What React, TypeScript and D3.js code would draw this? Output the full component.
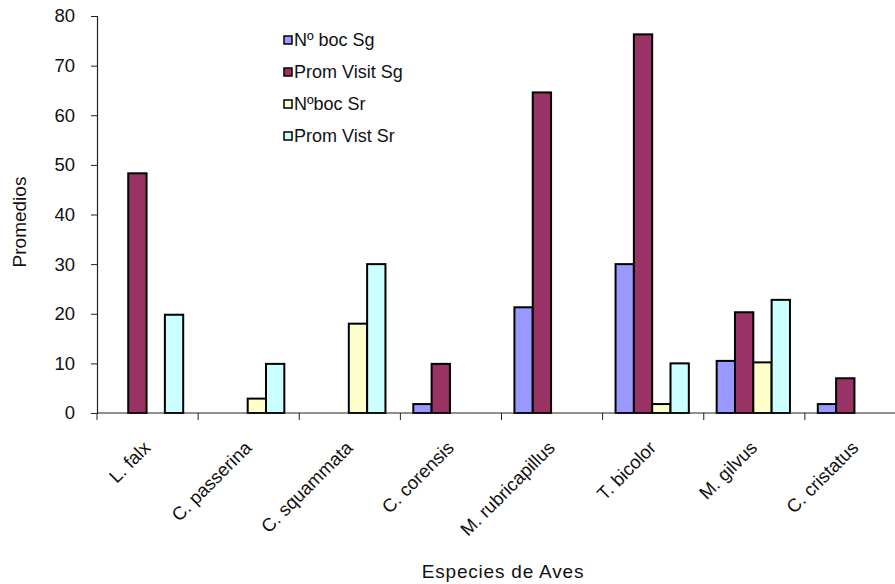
import React, { useEffect, useRef } from "react";
import * as d3 from "d3";

const species = ["L. falx", "C. passerina", "C. squammata", "C. corensis", "M. rubricapillus", "T. bicolor", "M. gilvus", "C. cristatus"];
const seriesNames = ["Nº boc Sg", "Prom Visit Sg", "Nºboc Sr", "Prom Vist Sr"];
const bocSg = [0, 0, 0, 1.8, 21.3, 30, 10.5, 1.8];
const visitSg = [48.3, 0, 0, 9.9, 64.6, 76.3, 20.3, 7];
const bocSr = [0, 2.9, 18, 0, 0, 1.8, 10.2, 0];
const vistSr = [19.8, 9.9, 30, 0, 0, 10, 22.8, 0];
const yTicks = [0, 10, 20, 30, 40, 50, 60, 70, 80];

const colors = ["#9999ff", "#993366", "#ffffcc", "#ccffff"];
const font = "'Liberation Sans', Arial, sans-serif";

const App: React.FC = () => {
    const svgRef = useRef<SVGSVGElement | null>(null);

    useEffect(() => {
        const svg = d3.select(svgRef.current);
        svg.selectAll("*").remove();
        const series = [bocSg, visitSg, bocSr, vistSr];

        const x = d3.scaleBand<string>().domain(species).range([97, 906]);
        const inner = d3.scaleBand<number>().domain([0, 1, 2, 3]).range([-1, x.bandwidth() - 1]).paddingOuter(0.76);
        const y = d3.scaleLinear().domain([0, 80]).range([413, 16]);

        // bars
        species.forEach((s, i) => {
            series.forEach((vals, k) => {
                if (vals[i] <= 0) return;
                svg.append("rect")
                    .attr("x", x(s)! + inner(k)!)
                    .attr("y", y(vals[i]))
                    .attr("width", inner.bandwidth())
                    .attr("height", y(0) - y(vals[i]))
                    .attr("fill", colors[k])
                    .attr("stroke", "#000")
                    .attr("stroke-width", 2);
            });
        });

        // y axis
        const yAxis = svg.append("g")
            .attr("transform", "translate(97,0)")
            .call(d3.axisLeft(y).tickValues(yTicks).tickSize(6).tickPadding(16));
        yAxis.select(".domain").attr("stroke", "#222").attr("stroke-width", 1.2);
        yAxis.selectAll("line").attr("stroke", "#222");
        yAxis.selectAll("text")
            .attr("font-family", font)
            .attr("font-size", 18.5)
            .attr("fill", "#111");

        // x axis
        const xAxis = svg.append("g").attr("transform", "translate(0,413)");
        xAxis.append("line").attr("x1", 97).attr("x2", 906).attr("stroke", "#222").attr("stroke-width", 1.2);
        xAxis.selectAll("line.tick")
            .data(species)
            .enter().append("line")
            .attr("class", "tick")
            .attr("x1", (d) => x(d)!).attr("x2", (d) => x(d)!)
            .attr("y1", 0).attr("y2", 7)
            .attr("stroke", "#222");
        xAxis.selectAll("text.label")
            .data(species)
            .enter().append("text")
            .attr("class", "label")
            .attr("transform", (d) => `translate(${x(d)! + x.bandwidth() / 2 + 4},36) rotate(-45)`)
            .attr("text-anchor", "end")
            .attr("font-family", font)
            .attr("font-size", 18.5)
            .attr("fill", "#111")
            .text((d) => d);

        // axis titles
        svg.append("text")
            .attr("transform", "translate(26,222) rotate(-90)")
            .attr("text-anchor", "middle")
            .attr("font-family", font)
            .attr("font-size", 19)
            .attr("fill", "#111")
            .text("Promedios");
        svg.append("text")
            .attr("x", 503).attr("y", 578)
            .attr("text-anchor", "middle")
            .attr("font-family", font)
            .attr("font-size", 19)
            .attr("letter-spacing", 0.8)
            .attr("fill", "#111")
            .text("Especies de Aves");

        // legend
        const legend = svg.append("g").attr("transform", "translate(284,40)");
        seriesNames.forEach((name, k) => {
            const row = legend.append("g").attr("transform", `translate(0,${k * 32})`);
            row.append("rect")
                .attr("x", 0).attr("y", -4).attr("width", 8).attr("height", 8)
                .attr("fill", colors[k]).attr("stroke", "#000").attr("stroke-width", 1.5);
            row.append("text")
                .attr("x", 10).attr("y", 0)
                .attr("dy", "0.35em")
                .attr("font-family", font)
                .attr("font-size", 18)
                .attr("fill", "#111")
                .text(name);
        });
    }, []);

    return (
        <div>
            <svg ref={svgRef} width={895} height={584} style={{ position: "absolute", left: 0, top: 0, background: "#fff" }}></svg>
        </div>
    );
};

export default App;
